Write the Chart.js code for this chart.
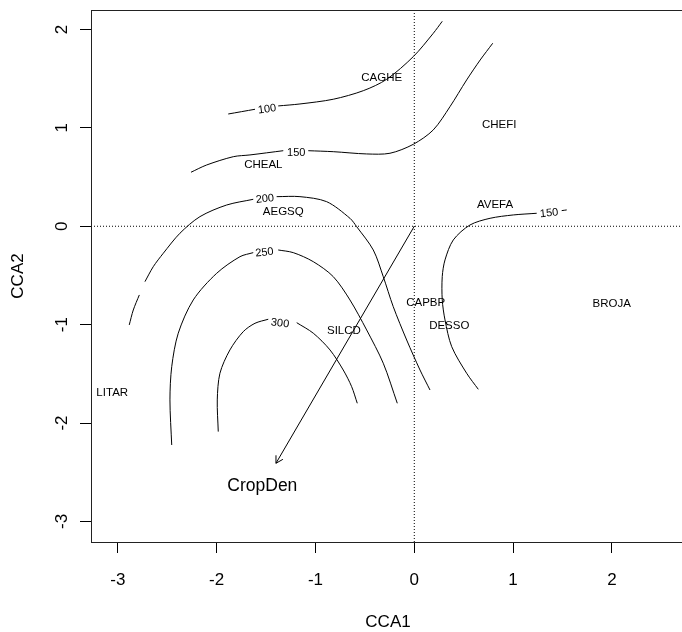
<!DOCTYPE html>
<html>
<head>
<meta charset="utf-8">
<script src="https://cdn.jsdelivr.net/npm/chart.js@4.4.0/dist/chart.umd.min.js"></script>
<style>
  html, body { margin: 0; padding: 0; background: #fff; overflow: hidden; }
  #wrap { width: 700px; height: 632px; }
</style>
</head>
<body>
<div id="wrap"><canvas id="cca" width="700" height="632"></canvas></div>
<script>
'use strict';

// axis ranges of the ordination plot
var X_MIN = -3.272, X_MAX = 2.74;
var Y_MIN = -3.209, Y_MAX = 2.198;
var X_TICKS = [-3, -2, -1, 0, 1, 2];
var Y_TICKS = [-3, -2, -1, 0, 1, 2];

// ordisurf contours of CropDen, null = break in the line (label gap)
var contour100 = [[-1.883,1.141],[-1.612,1.189],null,[-1.377,1.223],[-1.157,1.243],[-0.820,1.291],[-0.516,1.378],[-0.279,1.494],[-0.010,1.724],[0.192,1.961],[0.283,2.083]];
var contour150a = [[-2.260,0.549],[-2.101,0.623],[-1.832,0.707],[-1.663,0.725],[-1.326,0.768],null,[-1.073,0.768],[-0.820,0.758],[-0.482,0.735],[-0.246,0.742],[-0.010,0.833],[0.192,0.979],[0.361,1.215],[0.530,1.487],[0.667,1.690],[0.794,1.860]];
var contour150b = [[0.648,-1.657],[0.530,-1.494],[0.379,-1.224],[0.311,-0.952],[0.283,-0.748],[0.283,-0.512],[0.311,-0.342],[0.395,-0.139],[0.564,0.013],[0.767,0.081],[1.002,0.115],[1.239,0.132],null,[1.492,0.159],[1.543,0.166]];
var contour200 = [[-2.885,-1.003],[-2.844,-0.851],[-2.783,-0.698],null,[-2.726,-0.563],[-2.642,-0.411],[-2.540,-0.274],[-2.372,-0.071],[-2.169,0.098],[-1.899,0.216],[-1.630,0.274],null,[-1.393,0.301],[-1.157,0.301],[-0.887,0.250],[-0.651,0.081],[-0.583,-0.004],[-0.415,-0.241],[-0.314,-0.512],[-0.213,-0.817],[-0.077,-1.156],[0.058,-1.461],[0.159,-1.664]];
var contour250 = [[-2.455,-2.223],[-2.473,-1.765],[-2.455,-1.427],[-2.389,-1.087],[-2.237,-0.749],[-2.000,-0.478],[-1.764,-0.309],[-1.630,-0.268],null,[-1.377,-0.241],[-1.225,-0.268],[-1.022,-0.360],[-0.820,-0.512],[-0.651,-0.749],[-0.482,-1.054],[-0.314,-1.392],[-0.172,-1.799]];
var contour300 = [[-1.984,-2.087],[-1.994,-1.765],[-1.967,-1.494],[-1.866,-1.257],[-1.731,-1.071],[-1.612,-0.986],[-1.478,-0.945],null,[-1.190,-0.980],[-1.022,-1.087],[-0.853,-1.257],[-0.719,-1.461],[-0.634,-1.630],[-0.577,-1.799]];

var contours = [contour100, contour150a, contour150b, contour200, contour250, contour300];

// contour level labels: text, x, y, index into contours
var levelText = ['100', '150', '150', '200', '250', '300'];
var levelX = [-1.489, -1.195, 1.365, -1.511, -1.516, -1.359];
var levelY = [1.189, 0.745, 0.132, 0.277, -0.268, -0.986];

// species scores
var speciesNames = ['CAGHE', 'CHEFI', 'CHEAL', 'AEGSQ', 'AVEFA', 'CAPBP', 'DESSO', 'SILCD', 'BROJA', 'LITAR'];
var speciesX = [-0.330, 0.860, -1.528, -1.326, 0.817, 0.115, 0.354, -0.712, 1.998, -3.057];
var speciesY = [1.510, 1.029, 0.623, 0.142, 0.216, -0.776, -1.010, -1.061, -0.790, -1.691];

// biplot arrow for CropDen
var arrowName = 'CropDen';
var arrowTip = [-1.400, -2.409];
var arrowLabel = [-1.538, -2.646];

var FONT = '"Liberation Sans", Arial, Helvetica, sans-serif';

function toPoints(list) {
  return list.map(function(p) {
    return p ? {x: p[0], y: p[1]} : {x: null, y: null};
  });
}

var datasets = contours.map(function(c) {
  return {
    data: toPoints(c),
    showLine: true,
    borderColor: '#000',
    borderWidth: 1,
    pointRadius: 0,
    tension: 0.3,
    spanGaps: false
  };
});

// dotted lines through the origin
datasets.push({
  data: [{x: X_MIN, y: 0}, {x: X_MAX, y: 0}],
  showLine: true, borderColor: '#000', borderWidth: 1, borderDash: [1, 2], pointRadius: 0
});
datasets.push({
  data: [{x: 0, y: Y_MIN}, {x: 0, y: Y_MAX}],
  showLine: true, borderColor: '#000', borderWidth: 1, borderDash: [1, 2], pointRadius: 0
});
// arrow shaft
datasets.push({
  data: [{x: 0, y: 0}, {x: arrowTip[0], y: arrowTip[1]}],
  showLine: true, borderColor: '#000', borderWidth: 1, pointRadius: 0
});

function gapAngle(list, lx, ly, xs, ys) {
  // slope of the line across the gap closest to the label
  var best = null, bestD = Infinity;
  for (var i = 1; i < list.length - 1; i++) {
    if (list[i] !== null || !list[i - 1] || !list[i + 1]) continue;
    var mx = (list[i - 1][0] + list[i + 1][0]) / 2;
    var my = (list[i - 1][1] + list[i + 1][1]) / 2;
    var d = (mx - lx) * (mx - lx) + (my - ly) * (my - ly);
    if (d < bestD) { bestD = d; best = i; }
  }
  if (best === null) return 0;
  var a = list[best - 1], b = list[best + 1];
  var dx = xs.getPixelForValue(b[0]) - xs.getPixelForValue(a[0]);
  var dy = ys.getPixelForValue(b[1]) - ys.getPixelForValue(a[1]);
  var ang = Math.atan2(dy, dx);
  if (ang > Math.PI / 2) ang -= Math.PI;
  if (ang < -Math.PI / 2) ang += Math.PI;
  return ang;
}

var annotate = {
  id: 'annotate',
  afterDatasetsDraw: function(chart) {
    var ctx = chart.ctx;
    var xs = chart.scales.x, ys = chart.scales.y;
    var area = chart.chartArea;

    ctx.save();
    ctx.fillStyle = '#000';
    ctx.strokeStyle = '#000';
    ctx.lineWidth = 1;

    // plot box
    ctx.strokeStyle = '#222';
    ctx.strokeRect(area.left + 0.5, area.top + 0.5, area.right - area.left, area.bottom - area.top);
    ctx.strokeStyle = '#000';

    // contour level labels
    ctx.font = '11px ' + FONT;
    ctx.textAlign = 'center';
    ctx.textBaseline = 'middle';
    levelText.forEach(function(t, i) {
      var px = xs.getPixelForValue(levelX[i]);
      var py = ys.getPixelForValue(levelY[i]);
      var ang = gapAngle(contours[i], levelX[i], levelY[i], xs, ys);
      ctx.save();
      ctx.translate(px, py);
      ctx.rotate(ang);
      ctx.fillText(t, 0, 0);
      ctx.restore();
    });

    // species names
    ctx.font = '11.5px ' + FONT;
    speciesNames.forEach(function(n, i) {
      ctx.fillText(n, xs.getPixelForValue(speciesX[i]), ys.getPixelForValue(speciesY[i]));
    });

    // arrow head
    var x0 = xs.getPixelForValue(0), y0 = ys.getPixelForValue(0);
    var x1 = xs.getPixelForValue(arrowTip[0]), y1 = ys.getPixelForValue(arrowTip[1]);
    var th = Math.atan2(y1 - y0, x1 - x0);
    var hl = 8, ha = Math.PI / 6;
    ctx.beginPath();
    ctx.moveTo(x1 - hl * Math.cos(th - ha), y1 - hl * Math.sin(th - ha));
    ctx.lineTo(x1, y1);
    ctx.lineTo(x1 - hl * Math.cos(th + ha), y1 - hl * Math.sin(th + ha));
    ctx.stroke();

    ctx.font = '17.5px ' + FONT;
    ctx.fillText(arrowName, xs.getPixelForValue(arrowLabel[0]), ys.getPixelForValue(arrowLabel[1]));

    // y tick labels, parallel to the axis
    ctx.font = '17px ' + FONT;
    Y_TICKS.forEach(function(v) {
      ctx.save();
      ctx.translate(62, ys.getPixelForValue(v));
      ctx.rotate(-Math.PI / 2);
      ctx.fillText(String(v), 0, 0);
      ctx.restore();
    });

    // axis titles
    ctx.fillText('CCA1', (area.left + area.right) / 2, 622);
    ctx.save();
    ctx.translate(18, (area.top + area.bottom) / 2);
    ctx.rotate(-Math.PI / 2);
    ctx.fillText('CCA2', 0, 0);
    ctx.restore();

    ctx.restore();
  }
};

var ctx = document.getElementById('cca').getContext('2d');

var chart = new Chart(ctx, {
  type: 'scatter',
  data: {datasets: datasets},
  options: {
    responsive: false,
    animation: false,
    devicePixelRatio: 1,
    layout: {padding: {top: 10, right: 15, left: 0, bottom: 0}},
    plugins: {legend: {display: false}, tooltip: {enabled: false}},
    scales: {
      x: {
        type: 'linear',
        min: X_MIN,
        max: X_MAX,
        afterBuildTicks: function(s) { s.ticks = X_TICKS.map(function(v) { return {value: v}; }); },
        afterFit: function(s) { s.height = 90; },
        grid: {drawOnChartArea: false, drawTicks: true, tickLength: 11, color: '#000', lineWidth: 1},
        border: {display: true, color: '#222', width: 1},
        ticks: {
          color: '#000',
          padding: 17,
          maxRotation: 0,
          font: {family: FONT, size: 17},
          callback: function(v) { return String(v); }
        }
      },
      y: {
        type: 'linear',
        min: Y_MIN,
        max: Y_MAX,
        afterBuildTicks: function(s) { s.ticks = Y_TICKS.map(function(v) { return {value: v}; }); },
        afterFit: function(s) { s.width = 91; },
        grid: {drawOnChartArea: false, drawTicks: true, tickLength: 11, color: '#000', lineWidth: 1},
        border: {display: true, color: '#222', width: 1},
        ticks: {display: false}
      }
    }
  },
  plugins: [annotate]
});
</script>
</body>
</html>
